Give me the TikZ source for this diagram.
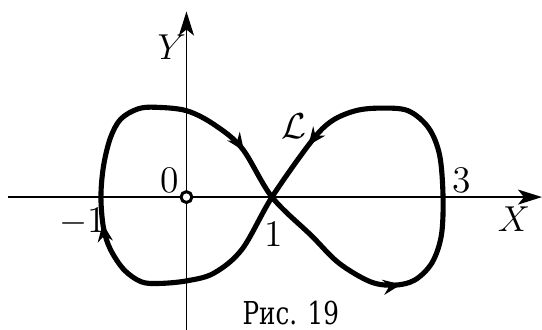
\documentclass[tikz,border=0pt]{standalone}
\usepackage{fontspec}
\newfontfamily\cyrfont{DejaVu Serif}[FakeStretch=0.78]
\usetikzlibrary{arrows.meta,decorations.markings}

\begin{document}
\begin{tikzpicture}[
  axis/.style={line width=0.6pt, -{Stealth[length=8pt,width=5pt,inset=2pt]}},
  curve/.style={line width=1.7pt, line join=round},
  lbl/.style={font=\fontsize{12.5}{14}\selectfont, inner sep=0pt},
  flow/.style={postaction={decorate}, decoration={markings,
      mark=at position 0.098 with {\arrow{Stealth[length=6pt,width=5pt,inset=2pt]}},
      mark=at position 0.39 with {\arrow{Stealth[length=6pt,width=5pt,inset=2pt]}},
      mark=at position 0.672 with {\arrow{Stealth[length=6pt,width=5pt,inset=2pt]}},
      mark=at position 0.900 with {\arrow{Stealth[length=6pt,width=5pt,inset=2pt]}}}}
]
  \useasboundingbox (-2.18,-1.544) rectangle (4.157,2.304);
  % axes
  \coordinate (xl) at (-2.09,0);
  \coordinate (xr) at (4.157,0);
  \coordinate (yb) at (0,-1.6);
  \coordinate (yt) at (0,2.17);
  \draw[axis] (xl) -- (xr);
  \draw[axis] (yb) -- (yt);
  % the figure eight L
  \draw[curve, flow] plot[smooth cycle, tension=0.55] coordinates {
    (1,0) (1.46,-0.45) (1.78,-0.77) (2.15,-0.99) (2.43,-1.03) (2.67,-0.97)
    (2.87,-0.77) (2.98,-0.45) (3,0) (2.96,0.49) (2.83,0.81) (2.59,1.01)
    (2.27,1.04) (1.98,1.01) (1.70,0.89) (1.46,0.65)
    (1,0) (0.65,-0.61) (0.32,-0.89) (0,-0.98) (-0.32,-1.01) (-0.53,-0.99)
    (-0.73,-0.85) (-0.89,-0.61) (-0.97,-0.36) (-1,0) (-0.97,0.36)
    (-0.89,0.69) (-0.77,0.91) (-0.57,1.03) (-0.36,1.05) (0,1.01)
    (0.32,0.85) (0.65,0.57)};
  \node[circle, draw, fill=white, line width=1pt, inner sep=0pt,
        minimum size=3.6pt] (orig) at (0,0) {};
  % labels
  \node[lbl] (zero) at (-0.20,0.20) {0};
  \node[lbl] (three) at (3.22,0.20) {3};
  \node[lbl] (one) at (1.02,-0.43) {1};
  \node[lbl] (mone) at (-1.21,-0.28) {$-$1};
  \node[lbl] (xlab) at (3.83,-0.26) {$X$};
  \node[lbl] (ylab) at (-0.17,1.75) {$Y$};
  \node[lbl] (curvelab) at (1.26,0.83) {$\mathcal{L}$};
  \node[lbl, font=\cyrfont\fontsize{10.5}{12}\selectfont] (caption) at (1.22,-1.36) {Рис. 19};
\end{tikzpicture}
\end{document}
